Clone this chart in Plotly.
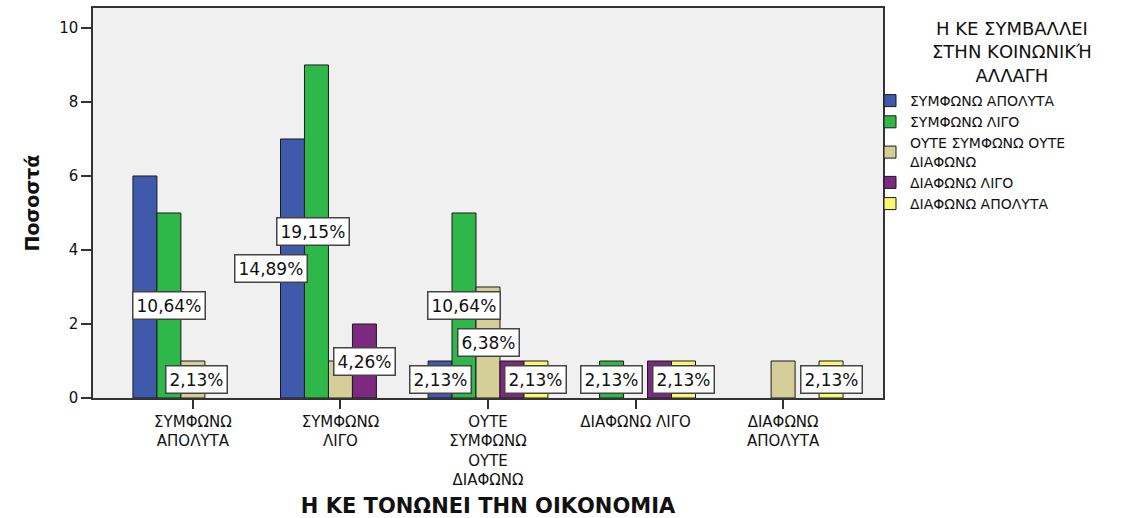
import plotly.graph_objects as go

# Categories on the x axis (Η ΚΕ ΤΟΝΩΝΕΙ ΤΗΝ ΟΙΚΟΝΟΜΙΑ)
categories = [
    "ΣΥΜΦΩΝΩ<br>ΑΠΟΛΥΤΑ",
    "ΣΥΜΦΩΝΩ<br>ΛΙΓΟ",
    "ΟΥΤΕ<br>ΣΥΜΦΩΝΩ<br>ΟΥΤΕ<br>ΔΙΑΦΩΝΩ",
    "ΔΙΑΦΩΝΩ ΛΙΓΟ",
    "ΔΙΑΦΩΝΩ<br>ΑΠΟΛΥΤΑ",
]

# Series (Η ΚΕ ΣΥΜΒΑΛΛΕΙ ΣΤΗΝ ΚΟΙΝΩΝΙΚΉ ΑΛΛΑΓΗ)
series_names = [
    "ΣΥΜΦΩΝΩ ΑΠΟΛΥΤΑ",
    "ΣΥΜΦΩΝΩ ΛΙΓΟ",
    "ΟΥΤΕ ΣΥΜΦΩΝΩ ΟΥΤΕ<br>ΔΙΑΦΩΝΩ",
    "ΔΙΑΦΩΝΩ ΛΙΓΟ",
    "ΔΙΑΦΩΝΩ ΑΠΟΛΥΤΑ",
]
symfono_apolyta = [6, 7, 1, 0, 0]
symfono_ligo = [5, 9, 5, 1, 0]
oute_oute = [1, 1, 3, 0, 1]
diafono_ligo = [0, 2, 1, 1, 0]
diafono_apolyta = [0, 0, 1, 1, 1]

# Which bars carry a percentage label
label_symfono_apolyta = [0, 1, 1, 0, 0]
label_symfono_ligo = [1, 1, 1, 1, 0]
label_oute_oute = [1, 0, 1, 0, 0]
label_diafono_ligo = [0, 1, 0, 0, 0]
label_diafono_apolyta = [0, 0, 1, 1, 1]

series_values = [symfono_apolyta, symfono_ligo, oute_oute, diafono_ligo, diafono_apolyta]
series_labels = [label_symfono_apolyta, label_symfono_ligo, label_oute_oute,
                 label_diafono_ligo, label_diafono_apolyta]
colors = ["#3F5AAA", "#2EB84A", "#D4CF98", "#7B2A7F", "#FAF872"]
# horizontal nudges (px) for labels that would collide
label_shift = {(0, 1): -21, (2, 0): 4, (1, 1): -3}

FONT = "DejaVu Sans, Liberation Sans, Arial, sans-serif"
TITLE_FONT = "DejaVu Sans, Liberation Sans, Arial, sans-serif"
total = sum(sum(v) for v in series_values)
bar_w = 0.1625
n = len(series_values)

# plot area in pixels, used to place the legend heading
PL, PR, PT, PB = 93, 883, 8, 398

fig = go.Figure()
annotations = []
for i, (name, vals, shown, col) in enumerate(zip(series_names, series_values, series_labels, colors)):
    xs = [g + (i - (n - 1) / 2) * bar_w for g in range(len(categories))]
    fig.add_trace(go.Bar(
        x=xs, y=[v if v else None for v in vals], name=name, width=bar_w,
        marker=dict(color=col, line=dict(color="#1a1a1a", width=1)),
    ))
    for g, (x, v, s) in enumerate(zip(xs, vals, shown)):
        if s:
            pct = f"{v / total * 100:.2f}%".replace(".", ",")
            annotations.append(dict(
                x=x, y=v / 2, xref="x", yref="y", text=pct, showarrow=False,
                xshift=label_shift.get((i, g), 0),
                font=dict(family=FONT, size=17, color="#111"),
                bgcolor="white", bordercolor="#444", borderwidth=1.5, borderpad=3,
            ))

annotations.append(dict(
    x=(1012 - PL) / (PR - PL), y=1.0 + (PT - 16) / (PB - PT),
    xref="paper", yref="paper", xanchor="center", yanchor="top",
    text="Η ΚΕ ΣΥΜΒΑΛΛΕΙ<br>ΣΤΗΝ ΚΟΙΝΩΝΙΚΉ<br>ΑΛΛΑΓΗ", showarrow=False,
    font=dict(family=FONT, size=18, color="#111"),
))

fig.update_layout(
    width=1137, height=518,
    margin=dict(l=PL, r=1137 - PR, t=PT, b=518 - PB),
    paper_bgcolor="white", plot_bgcolor="#F0F0F0",
    barmode="overlay",
    showlegend=True,
    legend=dict(
        x=(870 - PL) / (PR - PL), xanchor="left", y=1 - (85 - PT) / (PB - PT), yanchor="top",
        font=dict(family=FONT, size=14, color="#111"),
        itemwidth=30, tracegroupgap=0, bgcolor="rgba(0,0,0,0)",
    ),
    annotations=annotations,
    font=dict(family=FONT, color="#111"),
)
fig.update_xaxes(
    range=[-0.677, 4.677], tickvals=list(range(len(categories))), ticktext=categories,
    ticks="outside", ticklen=9, tickcolor="#333", tickwidth=1.5,
    showline=True, linecolor="#333", linewidth=1.5, mirror=True,
    showgrid=False, zeroline=False, automargin=False,
    tickfont=dict(family=FONT, size=15, color="#111"),
    title=dict(text="<b>Η ΚΕ ΤΟΝΩΝΕΙ ΤΗΝ ΟΙΚΟΝΟΜΙΑ</b>",
               font=dict(family=TITLE_FONT, size=21, color="#111")),
)
fig.update_yaxes(
    range=[0, 10.54], tickvals=[0, 2, 4, 6, 8, 10],
    ticks="outside", ticklen=10, tickcolor="#333", tickwidth=1.5,
    showline=True, linecolor="#333", linewidth=1.5, mirror=True,
    showgrid=False, zeroline=False, automargin=False,
    tickfont=dict(family=FONT, size=15, color="#111"),
    title=dict(text="<b>Ποσοστά</b>", font=dict(family=TITLE_FONT, size=19, color="#111")),
)

fig.write_html("out.html")
